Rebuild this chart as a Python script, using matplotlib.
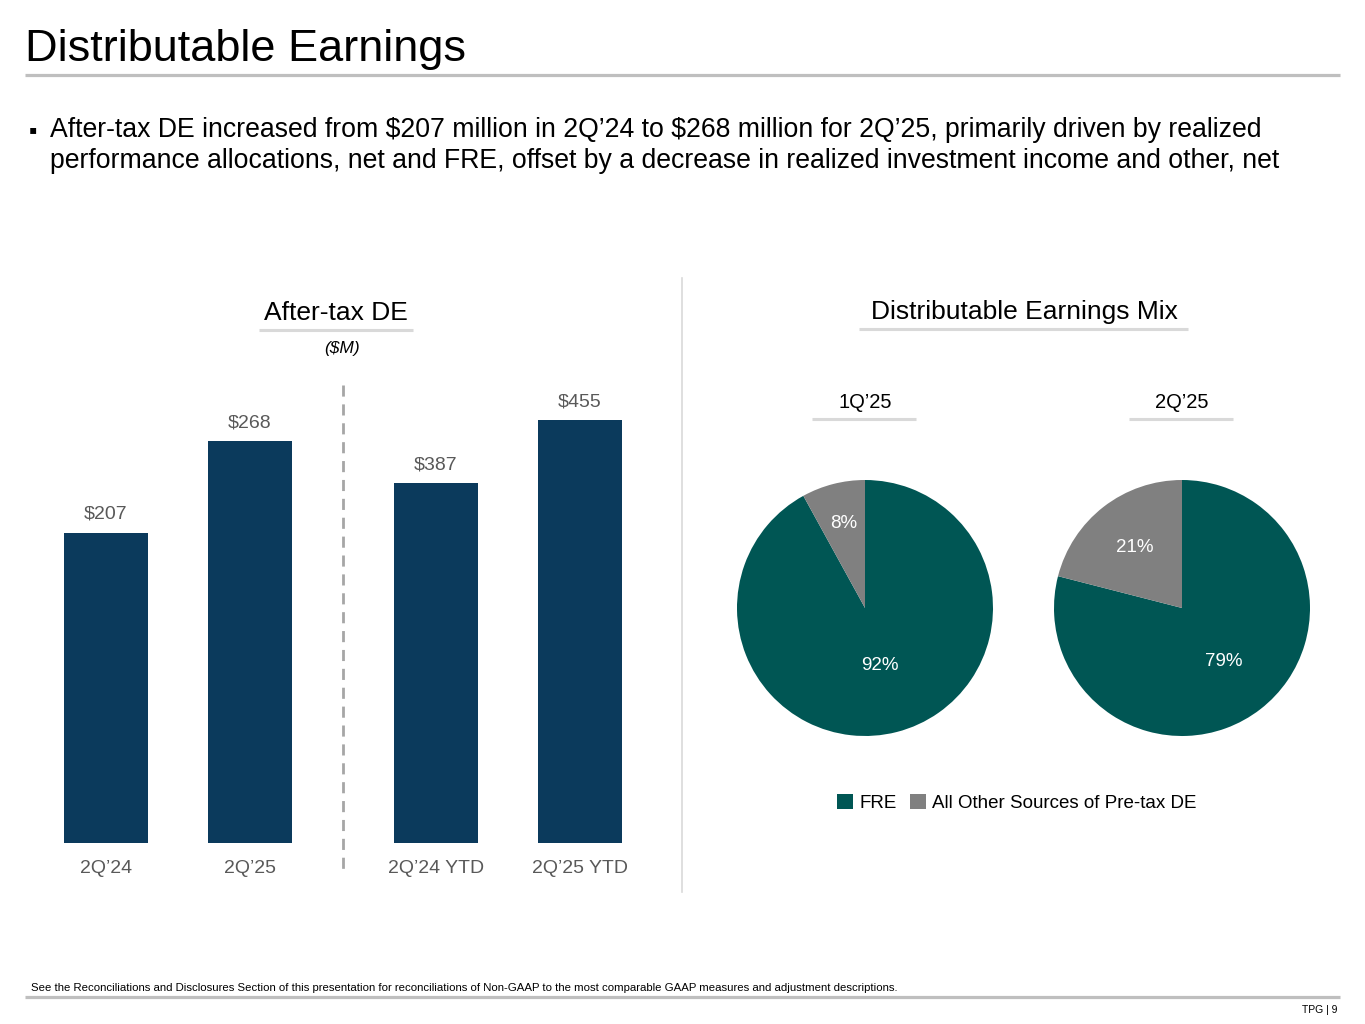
import matplotlib
matplotlib.use("Agg")
import matplotlib.pyplot as plt
from matplotlib.lines import Line2D
from matplotlib.patches import Patch
import numpy as np

plt.rcParams['font.family'] = ['Liberation Sans', 'DejaVu Sans']
plt.rcParams['text.parse_math'] = False

# ---------------- data ----------------
bar_cats_q = ["2Q\u201924", "2Q\u201925"]
bar_vals_q = [207, 268]
bar_cats_ytd = ["2Q\u201924 YTD", "2Q\u201925 YTD"]
bar_vals_ytd = [387, 455]

pie_periods = ["1Q\u201925", "2Q\u201925"]
pie_labels = ["FRE", "All Other Sources of Pre-tax DE"]
pie_1q25 = [92, 8]
pie_2q25 = [79, 21]

title = "Distributable Earnings"
bullet = ("After-tax DE increased from $207 million in 2Q\u201924 to $268 million for 2Q\u201925, primarily driven by realized\n"
          "performance allocations, net and FRE, offset by a decrease in realized investment income and other, net")
footnote = ("See the Reconciliations and Disclosures Section of this presentation for reconciliations of "
            "Non-GAAP to the most comparable GAAP measures and adjustment descriptions.")

# ---------------- styles ----------------
W, H = 1365, 1024
NAVY = "#0b3a5c"
TEAL = "#005654"
GREY = "#808080"
LABEL = "#595959"
RULE = "#d9d9d9"

fig = plt.figure(figsize=(W / 100, H / 100), dpi=100)


def fx(x):
    return x / W


def fy(y):
    return 1 - y / H


def hline(x0, x1, y, color=RULE, lw=2.2):
    fig.add_artist(Line2D([fx(x0), fx(x1)], [fy(y), fy(y)], color=color, lw=lw,
                          transform=fig.transFigure, solid_capstyle='butt'))


# title + bullet
fig.text(fx(25), fy(49), title, fontsize=32.5, va='center', ha='left', color='black')
hline(25, 1340, 75, color="#bfbfbf", lw=2.3)
fig.text(fx(29), fy(131), "\u25aa", fontsize=17, va='center', ha='left', color='black')
fig.text(fx(50), fy(145.5), bullet, fontsize=19.2, va='center', ha='left', color='black',
         linespacing=1.24)

# section titles
fig.text(fx(336), fy(313), "After-tax DE", fontsize=19, ha='center', va='center')
hline(259, 413, 330)
fig.text(fx(342), fy(349), "($M)", fontsize=12.5, style='italic', ha='center', va='center')

fig.text(fx(1024), fy(312), "Distributable Earnings Mix", fontsize=19, ha='center', va='center')
hline(859, 1188, 329)

# vertical separator
fig.add_artist(Line2D([fx(682), fx(682)], [fy(278), fy(892)], color=RULE, lw=1.2,
                      transform=fig.transFigure))
# dashed separator in bar chart
fig.add_artist(Line2D([fx(343), fx(343)], [fy(385), fy(870)], color="#a6a6a6", lw=2,
                      linestyle=(0, (4, 2.8)), transform=fig.transFigure))

# ---------------- bars ----------------
ax_h = 843 - 380
scales = [1.5, 0.93]  # px per $M for each panel
groups = [(bar_cats_q, bar_vals_q, 34), (bar_cats_ytd, bar_vals_ytd, 364)]
for (cats, vals, x0), sc in zip(groups, scales):
    ax = fig.add_axes([fx(x0), fy(843), 288 / W, ax_h / H])
    x = np.arange(len(cats))
    ax.bar(x, vals, width=84 / 144, color=NAVY)
    ax.set_xlim(-0.5, len(cats) - 0.5)
    ax.set_ylim(0, ax_h / sc)
    for xi, v in zip(x, vals):
        ax.annotate(f"${v}", (xi, v), xytext=(0, 13), textcoords='offset points',
                    ha='center', va='center', fontsize=14, color=LABEL)
    ax.set_xticks(x)
    ax.set_xticklabels(cats, fontsize=14, color=LABEL)
    ax.tick_params(axis='x', length=0, pad=12)
    ax.set_yticks([])
    for s in ax.spines.values():
        s.set_visible(False)

# ---------------- pies ----------------
pie_data = [pie_1q25, pie_2q25]
centers = [865, 1182]
label_dist = [[0.46, 0.68], [0.53, 0.6]]
R = 128
for period, vals, cx, dists in zip(pie_periods, pie_data, centers, label_dist):
    fig.text(fx(cx), fy(402), period, fontsize=14.5, ha='center', va='center')
    hline(cx - 53, cx + 51, 419)
    ax = fig.add_axes([fx(cx - R), fy(608 + R), 2 * R / W, 2 * R / H])
    wedges, _ = ax.pie(vals, colors=[TEAL, GREY], startangle=90, counterclock=False,
                       radius=1, wedgeprops=dict(linewidth=0))
    ax.set_xlim(-1, 1)
    ax.set_ylim(-1, 1)
    ax.set_aspect('equal')
    for w, v, d in zip(wedges, vals, dists):
        ang = np.deg2rad((w.theta1 + w.theta2) / 2)
        ax.text(d * np.cos(ang), d * np.sin(ang), f"{v}%", ha='center', va='center',
                fontsize=13.5, color='white')

handles = [Patch(facecolor=TEAL, edgecolor='none'), Patch(facecolor=GREY, edgecolor='none')]
fig.legend(handles, pie_labels, loc='center', bbox_to_anchor=(fx(1017), fy(803)), ncol=2,
           frameon=False, fontsize=13.5, handlelength=0.85, handleheight=0.85,
           handletextpad=0.3, columnspacing=0.75, borderpad=0, borderaxespad=0)

# ---------------- footer ----------------
fig.text(fx(31), fy(988), footnote, fontsize=8.2, ha='left', va='center', color='black')
hline(25, 1340, 997, color="#bfbfbf", lw=2.3)
fig.text(fx(1338), fy(1010), "TPG | 9", fontsize=7.5, ha='right', va='center', color='black')

fig.savefig("out.png", dpi=100)
